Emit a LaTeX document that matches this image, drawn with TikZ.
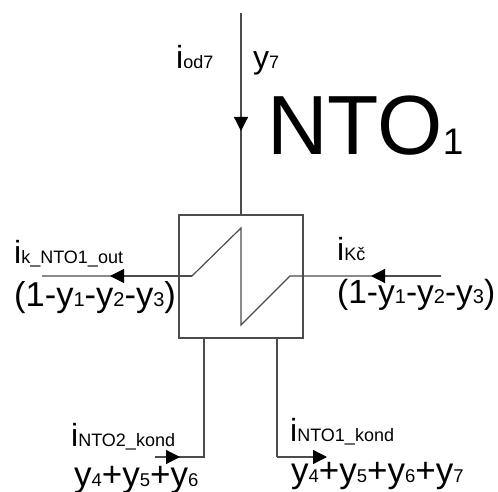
\documentclass[tikz,border=0pt]{standalone}
\usepackage{fontspec}
\setmainfont{Liberation Sans}
\usetikzlibrary{arrows.meta}
\tikzset{
  wire/.style={draw=black!70,line width=1.2pt},
  head/.style={-{Triangle[length=14pt,width=14pt,color=black]},draw=black!70,line width=1.2pt,shorten >=0pt},
  lbl/.style={inner sep=0pt,anchor=base west,text=black}
}
\newcommand{\bg}[1]{{\fontsize{32}{32}\selectfont #1}}
\newcommand{\sm}[1]{{\fontsize{18}{18}\selectfont #1}}
\newcommand{\md}[1]{{\fontsize{34.5}{34}\selectfont #1}}
\newcommand{\mr}[1]{{\fontsize{33.5}{34}\selectfont #1}}
\newcommand{\ms}[1]{{\fontsize{20}{20}\selectfont #1}}
\newcommand{\yy}[1]{{\fontsize{35}{35}\selectfont #1}}
\newcommand{\ys}[1]{{\fontsize{18.5}{18.5}\selectfont #1}}
\begin{document}
\begin{tikzpicture}[x=1pt,y=-1pt]
\useasboundingbox (0,0) rectangle (498,492);
\fill[white] (0,0) rectangle (498,492);
\node[draw=black!70,line width=1.2pt,minimum width=124pt,minimum height=123pt,inner sep=0pt] (hx) at (241,276.5) {};
\coordinate (top) at (241,13);
\coordinate (am) at (241,131);
\coordinate (lf) at (42,276);
\coordinate (la) at (110,276);
\coordinate (rt) at (441,276);
\coordinate (ra) at (371,276);
\coordinate (bl) at (204,338);
\coordinate (blc) at (204,457);
\coordinate (ble) at (155,457);
\coordinate (bla) at (180,457);
\coordinate (br) at (277,338);
\coordinate (brc) at (277,457);
\coordinate (bra) at (327,457);
\draw[wire] (top) -- (hx.north);
\draw[head] (top) -- (am);
\draw[wire] (lf) -- (192,276) -- (241,228) -- (241,325) -- (290,276) -- (rt);
\draw[head] (192,276) -- (la);
\draw[head] (rt) -- (ra);
\draw[wire] (bl) -- (blc) -- (ble);
\draw[head] (ble) -- (bla);
\draw[wire] (br) -- (brc);
\draw[head] (brc) -- (bra);
\node[lbl] (t1) at (176,69) {\bg{i}\sm{od7}};
\node[lbl] (t2) at (253,69) {\bg{y}\sm{7}};
\node[lbl] (t3) at (267,155) {{\fontsize{84}{84}\selectfont NTO}{\fontsize{37}{37}\selectfont 1}};
\node[lbl] (t4) at (14,263) {\bg{i}\sm{k\_NTO1\_out}};
\node[lbl] (t5) at (14,306) {\md{(1-y}\ms{1}\md{-y}\ms{2}\md{-y}\ms{3}\md{)}};
\node[lbl] (t6) at (337,260) {\bg{i}\sm{Kč}};
\node[lbl] (t7) at (337,303) {\mr{(1-y}\ms{1}\mr{-y}\ms{2}\mr{-y}\ms{3}\mr{)}};
\node[lbl] (t8) at (71,446) {\bg{i}\sm{NTO2\_kond}};
\node[lbl] (t9) at (290,441) {\bg{i}\sm{NTO1\_kond}};
\node[lbl] (t10) at (74,486) {\yy{y}\ys{4}\yy{+y}\ys{5}\yy{+y}\ys{6}};
\node[lbl] (t11) at (291,482) {\yy{y}\ys{4}\yy{+y}\ys{5}\yy{+y}\ys{6}\yy{+y}\ys{7}};
\end{tikzpicture}
\end{document}
